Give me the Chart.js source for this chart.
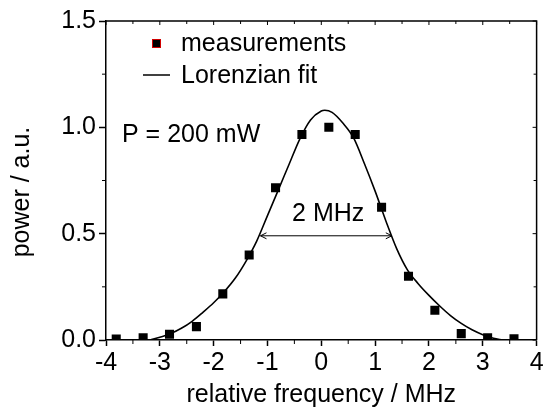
<!DOCTYPE html>
<html>
<head>
<meta charset="utf-8">
<script src="https://cdn.jsdelivr.net/npm/chart.js@4.4.1/dist/chart.umd.min.js"></script>
<style>
  html, body { margin: 0; padding: 0; background: #fff; }
  #myChart { display: block; }
</style>
</head>
<body>
<canvas id="myChart" width="543" height="415"></canvas>
<script>
// measured points (relative frequency in MHz, power in a.u.)
const freqMeas = [-3.81, -3.31, -2.82, -2.32, -1.83, -1.34, -0.85, -0.36, 0.14, 0.63, 1.12, 1.62, 2.11, 2.6, 3.09, 3.58];
const powerMeas = [0.005, 0.01, 0.027, 0.063, 0.217, 0.4, 0.716, 0.966, 1.0, 0.966, 0.624, 0.3, 0.14, 0.03, 0.01, 0.006];

// fit curve
const fitFreq = [-3.18, -3.0, -2.8, -2.6, -2.4, -2.2, -2.0, -1.8, -1.6, -1.4, -1.2, -1.0, -0.8, -0.6, -0.4, -0.2, 0.0, 0.065, 0.2, 0.4, 0.6, 0.8, 1.0, 1.2, 1.4, 1.6, 1.8, 2.0, 2.2, 2.4, 2.6, 2.8, 3.0, 3.2, 3.37];
const fitPower = [0, 0.013, 0.03, 0.055, 0.088, 0.13, 0.175, 0.228, 0.29, 0.37, 0.465, 0.585, 0.705, 0.825, 0.945, 1.035, 1.077, 1.08, 1.07, 1.02, 0.95, 0.83, 0.7, 0.56, 0.43, 0.33, 0.265, 0.21, 0.16, 0.115, 0.078, 0.048, 0.025, 0.008, 0];

const xTicks = [-4, -3, -2, -1, 0, 1, 2, 3, 4];
const yTicks = [0.0, 0.5, 1.0, 1.5];

// FWHM marker
const fwhmFrom = -1.13;
const fwhmTo = 1.31;
const fwhmLevel = 0.49;
const fwhmLabel = "2 MHz";
const powerLabel = "P = 200 mW";

const FONT = "'Liberation Sans', Arial, sans-serif";

const extras = {
  id: "extras",
  afterDraw(chart) {
    const ctx = chart.ctx;
    const xs = chart.scales.x;
    const ys = chart.scales.y;
    const a = chart.chartArea;
    ctx.save();
    ctx.strokeStyle = "#000";
    ctx.fillStyle = "#000";
    ctx.lineWidth = 1.5;

    // top and right frame
    ctx.beginPath();
    ctx.moveTo(a.left, a.top);
    ctx.lineTo(a.right, a.top);
    ctx.lineTo(a.right, a.bottom);
    ctx.stroke();

    // minor ticks + ticks on top / right
    ctx.lineWidth = 1;
    ctx.beginPath();
    for (let i = 0; i < xTicks.length; i++) {
      const px = xs.getPixelForValue(xTicks[i]);
      ctx.moveTo(px, a.top);
      ctx.lineTo(px, a.top + 4);
      if (i < xTicks.length - 1) {
        const pm = xs.getPixelForValue((xTicks[i] + xTicks[i + 1]) / 2);
        ctx.moveTo(pm, a.bottom);
        ctx.lineTo(pm, a.bottom + 4);
        ctx.moveTo(pm, a.top);
        ctx.lineTo(pm, a.top + 3);
      }
    }
    for (let i = 0; i < yTicks.length; i++) {
      const py = ys.getPixelForValue(yTicks[i]);
      ctx.moveTo(a.right, py);
      ctx.lineTo(a.right - 4, py);
      if (i < yTicks.length - 1) {
        const pm = ys.getPixelForValue((yTicks[i] + yTicks[i + 1]) / 2);
        ctx.moveTo(a.left, pm);
        ctx.lineTo(a.left - 4, pm);
        ctx.moveTo(a.right, pm);
        ctx.lineTo(a.right - 3, pm);
      }
    }
    ctx.stroke();

    // FWHM arrow
    const x1 = xs.getPixelForValue(fwhmFrom);
    const x2 = xs.getPixelForValue(fwhmTo);
    const yy = ys.getPixelForValue(fwhmLevel);
    ctx.beginPath();
    ctx.moveTo(x1, yy);
    ctx.lineTo(x2, yy);
    ctx.moveTo(x1 + 6, yy - 3);
    ctx.lineTo(x1, yy);
    ctx.lineTo(x1 + 6, yy + 3);
    ctx.moveTo(x2 - 6, yy - 3);
    ctx.lineTo(x2, yy);
    ctx.lineTo(x2 - 6, yy + 3);
    ctx.stroke();

    ctx.font = "25px " + FONT;
    ctx.textBaseline = "middle";
    ctx.textAlign = "center";
    ctx.fillText(fwhmLabel, (x1 + x2) / 2 + 2, yy - 22);

    ctx.textAlign = "left";
    ctx.fillText(powerLabel, 122, 135);

    // legend
    const ds0 = chart.data.datasets[0];
    const ds1 = chart.data.datasets[1];
    ctx.fillStyle = "#000";
    ctx.fillRect(152, 39, 9, 9);
    ctx.strokeStyle = "#d00000";
    ctx.lineWidth = 1;
    ctx.strokeRect(152.5, 39.5, 8, 8);
    ctx.fillStyle = "#000";
    ctx.fillText(ds0.label, 181, 44);
    ctx.strokeStyle = "#000";
    ctx.lineWidth = 1.5;
    ctx.beginPath();
    ctx.moveTo(143, 75);
    ctx.lineTo(170, 75);
    ctx.stroke();
    ctx.fillText(ds1.label, 181, 76);

    // y axis title
    ctx.translate(22, 192);
    ctx.rotate(-Math.PI / 2);
    ctx.textAlign = "center";
    ctx.fillText("power / a.u.", 0, 0);
    ctx.restore();
  }
};

const ctx = document.getElementById("myChart").getContext("2d");
const myChart = new Chart(ctx, {
  type: "scatter",
  data: {
    datasets: [
      {
        label: "measurements",
        data: freqMeas.map((f, i) => ({ x: f, y: powerMeas[i] })),
        pointStyle: "rect",
        pointRadius: 6.4,
        pointBorderWidth: 0,
        backgroundColor: "#000",
        borderColor: "#000",
        showLine: false,
        clip: 0,
      },
      {
        label: "Lorenzian fit",
        data: fitFreq.map((f, i) => ({ x: f, y: fitPower[i] })),
        showLine: true,
        pointRadius: 0,
        borderColor: "#000",
        borderWidth: 1.6,
        cubicInterpolationMode: "monotone",
        clip: 0,
      },
    ],
  },
  options: {
    responsive: false,
    animation: false,
    devicePixelRatio: 1,
    layout: { padding: { top: 21, right: 6, left: 0, bottom: 0 } },
    plugins: {
      legend: { display: false },
      tooltip: { enabled: false },
    },
    scales: {
      x: {
        type: "linear",
        min: -4,
        max: 4,
        afterBuildTicks: (scale) => {
          scale.ticks = xTicks.map((v) => ({ value: v }));
        },
        afterFit: (scale) => {
          scale.height = 75;
          scale.paddingLeft = 0;
          scale.paddingRight = 0;
        },
        ticks: {
          color: "#000",
          font: { family: FONT, size: 25 },
          padding: 2,
          maxRotation: 0,
          callback: (v) => String(v),
        },
        grid: {
          display: true,
          drawOnChartArea: false,
          drawTicks: true,
          tickLength: 6,
          tickColor: "#000",
          tickWidth: 1.5,
        },
        border: { display: true, color: "#000", width: 1.5 },
        title: {
          display: true,
          text: "relative frequency / MHz",
          color: "#000",
          font: { family: FONT, size: 25 },
          padding: { top: 0, bottom: 5 },
        },
      },
      y: {
        type: "linear",
        min: 0,
        max: 1.5,
        afterBuildTicks: (scale) => {
          scale.ticks = yTicks.map((v) => ({ value: v }));
        },
        afterFit: (scale) => {
          scale.width = 106;
          scale.paddingTop = 0;
          scale.paddingBottom = 0;
        },
        ticks: {
          color: "#000",
          font: { family: FONT, size: 25 },
          padding: 3,
          callback: (v) => v.toFixed(1),
        },
        grid: {
          display: true,
          drawOnChartArea: false,
          drawTicks: true,
          tickLength: 7,
          tickColor: "#000",
          tickWidth: 1.5,
        },
        border: { display: true, color: "#000", width: 1.5 },
      },
    },
  },
  plugins: [extras],
});
</script>
</body>
</html>
